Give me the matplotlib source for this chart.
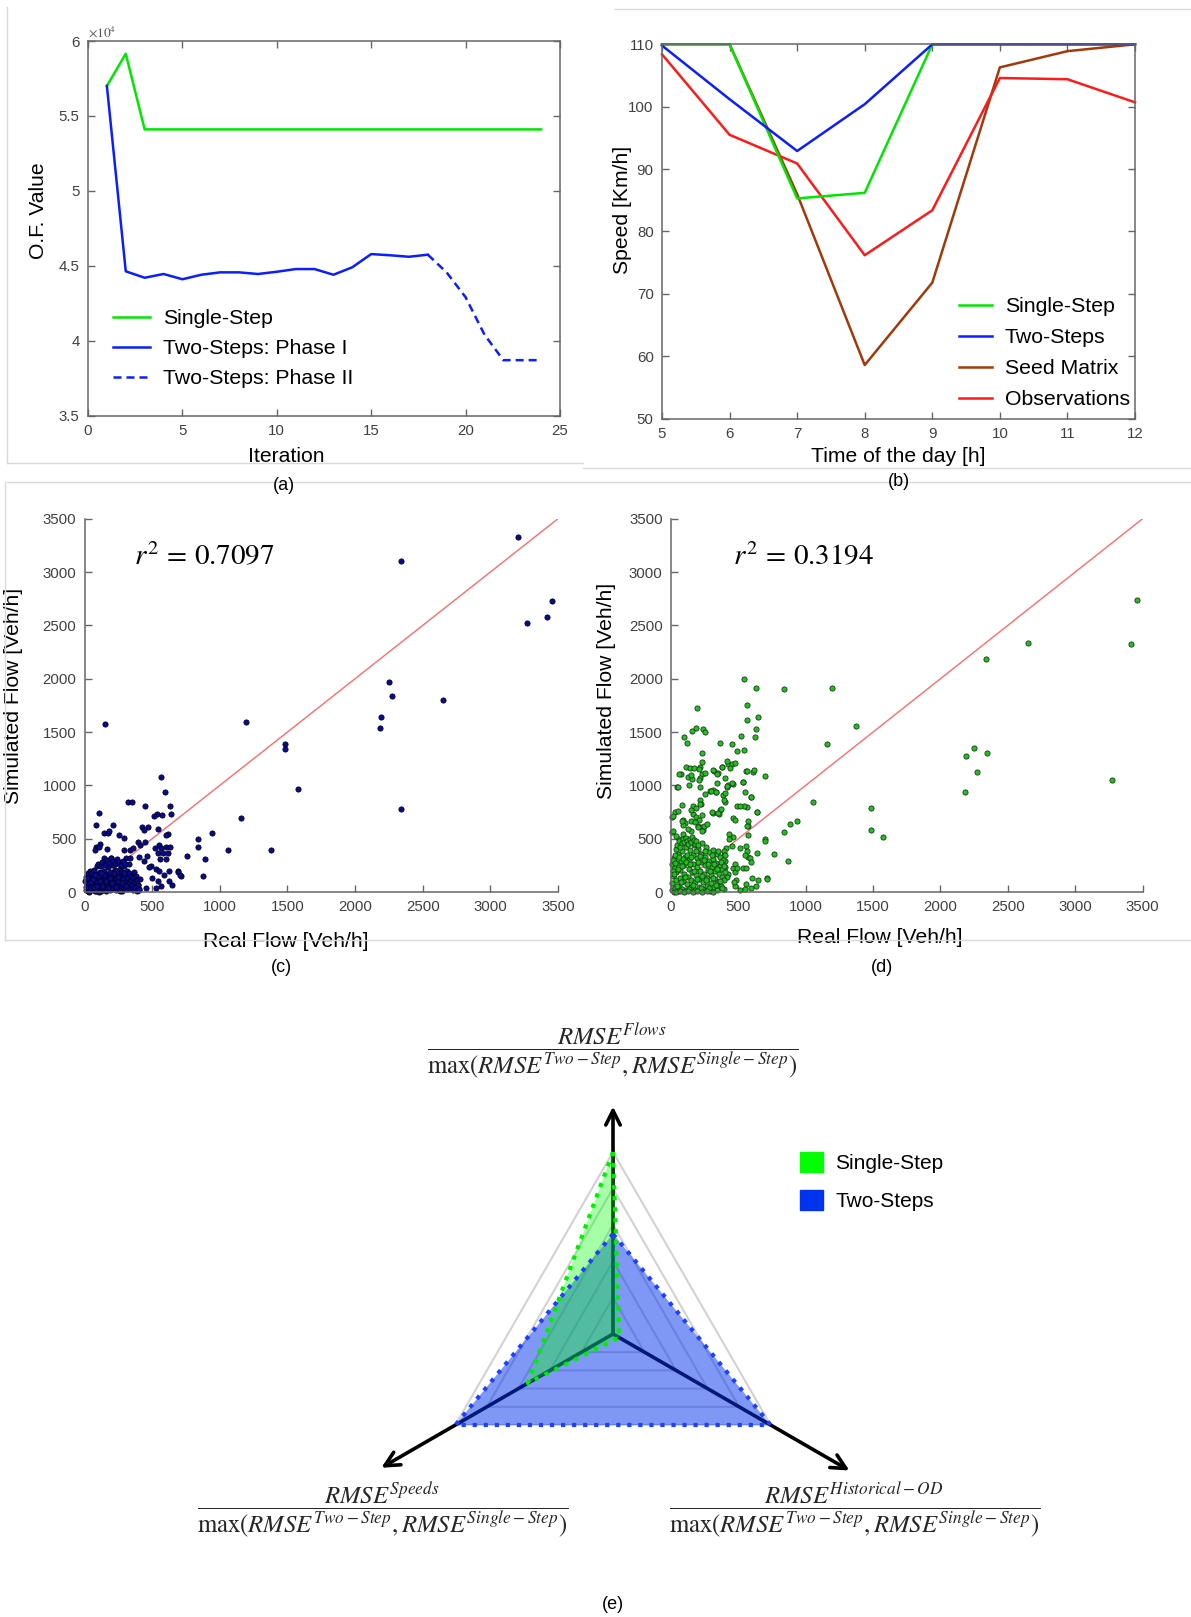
import numpy as np
import matplotlib.pyplot as plt
from matplotlib.lines import Line2D
from matplotlib.patches import Patch
from matplotlib.ticker import FuncFormatter

plt.rcParams['font.family'] = ['Liberation Sans', 'DejaVu Sans']
plt.rcParams['mathtext.fontset'] = 'stix'

W, H = 1191, 1617
GREEN, BLUE, BROWN, RED = '#00e600', '#0a1eff', '#a03a0a', '#ff1a1a'

# ---- (a) objective function vs iteration
iteration = list(range(1, 25))
of_single = [57000, 59150, 54100, 54100, 54100, 54100, 54100, 54100, 54100, 54100, 54100, 54100,
             54100, 54100, 54100, 54100, 54100, 54100, 54100, 54100, 54100, 54100, 54100, 54100]
iter_phase1 = list(range(1, 19))
of_phase1 = [57000, 44630, 44200, 44450, 44100, 44400, 44560, 44560, 44450, 44600, 44780, 44780,
             44400, 44900, 45780, 45700, 45600, 45740]
iter_phase2 = [18, 19, 20, 21, 22, 23, 24]
of_phase2 = [45740, 44550, 42900, 40400, 38700, 38700, 38700]

# ---- (b) speeds by hour
hours = [5, 6, 7, 8, 9, 10, 11, 12]
speed_single = [110, 110, 85.3, 86.2, 110, 110, 110, 110]
speed_two = [109.8, 101.2, 92.9, 100.4, 110, 110, 110, 110]
speed_seed = [110, 110, 86.0, 58.6, 71.8, 106.3, 108.9, 110]
speed_obs = [108.4, 95.5, 90.9, 76.2, 83.4, 104.6, 104.4, 100.7]

# ---- (c) real vs simulated flow, single-step
c_pts = [
    (3202, 3331), (2340, 3100), (3455, 2725), (3420, 2577), (3273, 2525), (2249, 1972), (2276, 1840),
    (2650, 1798), (2190, 1640), (2182, 1540), (1196, 1590), (153, 1573), (1485, 1384), (1485, 1341),
    (1579, 968), (2337, 781), (1155, 694), (939, 552), (841, 497), (841, 425), (1058, 397), (1378, 394),
    (888, 305), (876, 152), (693, 200), (713, 150), (565, 1080),
    (591, 937), (319, 840), (348, 846), (449, 809), (630, 803), (108, 743), (642, 734), (534, 734),
    (571, 721), (510, 712), (86, 630), (208, 624), (424, 605), (466, 611), (441, 583), (620, 542),
    (600, 533), (140, 549), (172, 555), (184, 571), (252, 533), (539, 593), (115, 448), (83, 423),
    (164, 401), (294, 395), (289, 508), (336, 395), (355, 408), (392, 473), (449, 467), (412, 445),
    (522, 414), (552, 445), (564, 408), (600, 426), (635, 423), (544, 364), (576, 364), (613, 361),
    (554, 310), (605, 310), (78, 392), (103, 420), (757, 342), (694, 191), (706, 157), (458, 339),
    (441, 288), (400, 326), (490, 241), (478, 232), (527, 219), (497, 132), (539, 107), (625, 194),
    (625, 100), (645, 63), (564, 53), (527, 38), (551, 194), (588, 163), (453, 38), (404, 22),
    (392, 69), (306, 320), (336, 320), (245, 273), (282, 257), (326, 263), (147, 320), (196, 320),
    (135, 273), (172, 273),
    (10, 20), (15, 60), (20, 110), (25, 5), (30, 40), (35, 85), (40, 130), (45, 15), (50, 60), (55, 100),
    (60, 30), (65, 150), (70, 75), (75, 10), (80, 115), (85, 45), (90, 170), (95, 90), (100, 25), (105, 135),
    (110, 60), (115, 190), (120, 10), (125, 95), (130, 150), (135, 35), (140, 200), (145, 75), (150, 120), (155, 5),
    (160, 170), (165, 55), (170, 230), (175, 100), (180, 140), (185, 20), (190, 185), (195, 70), (200, 250), (205, 115),
    (210, 40), (215, 160), (220, 90), (225, 210), (230, 15), (235, 130), (240, 60), (245, 175), (250, 100), (255, 30),
    (260, 220), (265, 145), (270, 70), (275, 190), (280, 10), (285, 120), (290, 240), (295, 50), (300, 160), (305, 95),
    (310, 200), (315, 25), (320, 135), (325, 80), (330, 180), (335, 40), (340, 110), (345, 150), (350, 65), (355, 20),
    (360, 130), (365, 185), (370, 90), (375, 45), (380, 150), (385, 110), (390, 10), (395, 70), (400, 30), (410, 120),
    (12, 140), (28, 175), (42, 200), (58, 180), (72, 210), (88, 240), (102, 265), (118, 245), (132, 280), (148, 255),
    (162, 300), (178, 270), (192, 320), (208, 290), (222, 265), (238, 305), (252, 280), (268, 250), (282, 290), (298, 265),
    (20, 75), (38, 20), (52, 120), (68, 45), (82, 5), (98, 150), (112, 100), (128, 55), (142, 160), (158, 105),
    (172, 40), (188, 130), (202, 80), (218, 180), (232, 50), (248, 145), (262, 10), (278, 85), (292, 175), (308, 60),
    (5, 100), (8, 50), (18, 130), (33, 0), (47, 95), (63, 120), (78, 160), (92, 60), (108, 0), (123, 175),
]

# ---- (d) real vs simulated flow, two-steps
d_pts = [
    (3458, 2741), (2651, 2338), (3415, 2323), (2336, 2185), (2246, 1346), (2342, 1305), (2189, 1274),
    (2274, 1127), (2181, 940), (3271, 1049), (541, 1993), (632, 1916), (840, 1905), (1196, 1912),
    (192, 1721), (646, 1640), (1376, 1555), (562, 1757), (562, 1617), (630, 1528), (623, 1456), (98, 1456),
    (118, 1400), (153, 1512), (186, 1542), (240, 1525), (255, 1497), (361, 1398), (455, 1391), (520, 1465),
    (545, 1329), (492, 1320), (232, 1306), (1155, 1384), (1481, 787), (1484, 584), (1575, 512), (1056, 846),
    (935, 668), (884, 637), (838, 559), (762, 356), (872, 293), (711, 128), (697, 496), (694, 1086),
    (609, 1127), (558, 1130), (538, 1027), (595, 887), (564, 799), (637, 746), (575, 621), (572, 534),
    (555, 434), (575, 325), (637, 362),
    (425, 1199), (456, 1199), (419, 1224), (382, 1168), (317, 1133), (351, 1118), (228, 1222), (215, 1168),
    (229, 1105), (108, 1168), (142, 1161), (173, 1166), (210, 1156), (314, 1144), (376, 1175), (440, 1160),
    (475, 1207), (71, 1105), (127, 1080), (156, 1058), (136, 1002), (45, 980), (218, 1068), (218, 980),
    (255, 918), (292, 943), (311, 955), (334, 933), (309, 743), (360, 768), (354, 730), (388, 912),
    (425, 1002), (459, 1008), (419, 987), (399, 843), (487, 809), (6, 702), (28, 752), (8, 565),
    (91, 671), (105, 643), (88, 631), (161, 809), (187, 784), (212, 862), (221, 824), (161, 731),
    (184, 702), (204, 618), (227, 606), (235, 584), (243, 621), (266, 637),
    (147, 1099), (61, 1108), (51, 987), (208, 1051), (252, 1115), (345, 1102), (343, 1019), (404, 1067),
    (453, 1026), (416, 994), (294, 949), (331, 940), (399, 924), (348, 739), (306, 748), (370, 777),
    (397, 860), (216, 828), (152, 771), (81, 812), (51, 755), (12, 710), (208, 675), (233, 726),
    (145, 666), (179, 653), (78, 669), (152, 573), (123, 589), (201, 605), (233, 573), (12, 573),
    (86, 541), (61, 500), (37, 525), (534, 1035), (551, 940), (613, 1140), (566, 1137), (539, 803),
    (713, 118), (649, 111), (600, 134), (559, 73), (510, 19), (551, 32), (630, 54), (593, 41),
    (473, 54), (485, 111), (458, 223), (478, 191), (532, 223), (583, 318), (593, 280), (554, 229),
    (451, 427), (573, 666), (563, 621), (698, 478), (639, 748), (593, 892), (515, 806), (463, 691),
    (478, 678), (434, 548), (458, 516), (434, 494), (566, 382), (551, 344), (512, 408), (409, 417),
    (392, 389), (397, 350), (478, 261), (488, 229), (402, 293), (404, 232), (426, 172), (412, 137), (468, 96),
    (5, 20), (10, 80), (15, 150), (20, 230), (25, 320), (30, 40), (35, 110), (40, 190), (45, 270), (50, 360),
    (55, 10), (60, 60), (65, 130), (70, 210), (75, 290), (80, 380), (85, 30), (90, 100), (95, 170), (100, 250),
    (105, 330), (110, 420), (115, 15), (120, 75), (125, 145), (130, 220), (135, 300), (140, 390), (145, 45), (150, 115),
    (155, 185), (160, 265), (165, 345), (170, 440), (175, 20), (180, 90), (185, 160), (190, 235), (195, 315), (200, 405),
    (205, 50), (210, 125), (215, 200), (220, 280), (225, 360), (230, 460), (235, 25), (240, 95), (245, 170), (250, 250),
    (255, 330), (260, 420), (265, 60), (270, 135), (275, 210), (280, 290), (285, 375), (290, 10), (295, 80), (300, 155),
    (305, 230), (310, 310), (315, 395), (320, 45), (325, 120), (330, 195), (335, 275), (340, 355), (345, 15), (350, 90),
    (355, 165), (360, 245), (365, 330), (370, 60), (375, 140), (380, 215), (385, 300), (390, 30), (395, 110), (400, 190),
    (8, 260), (18, 300), (28, 350), (38, 400), (48, 440), (58, 480), (68, 420), (78, 460), (88, 500), (98, 470),
    (108, 510), (118, 480), (128, 450), (138, 500), (148, 470), (158, 520), (168, 490), (178, 450), (188, 480), (198, 440),
    (12, 200), (22, 170), (32, 270), (42, 60), (52, 220), (62, 330), (72, 90), (82, 240), (92, 310), (102, 140),
    (112, 280), (122, 350), (132, 30), (142, 260), (152, 330), (162, 70), (172, 200), (182, 380), (192, 120), (202, 280),
    (212, 340), (222, 40), (232, 150), (242, 300), (252, 380), (262, 110), (272, 260), (282, 40), (292, 200), (302, 350),
    (312, 130), (322, 260), (332, 70), (342, 220), (352, 380), (362, 100), (372, 280), (382, 40), (392, 240), (402, 350),
    (20, 0), (40, 0), (65, 5), (95, 0), (125, 5), (160, 0), (195, 5), (230, 0), (270, 5), (310, 0),
]

# ---- (e) normalised RMSE radar
radar_series = ['Single-Step', 'Two-Steps']
radar_single = [1.0, 0.54, 0.04]   # flows, speeds, historical OD
radar_two = [0.55, 1.0, 1.0]
grid_levels = [0.2, 0.4, 0.6, 0.8, 1.0]

fig = plt.figure(figsize=(W / 100, H / 100), dpi=100)


def add_ax(l, t, r, b):
    return fig.add_axes([l / W, 1 - b / H, (r - l) / W, (b - t) / H])


def fx(x):
    return x / W


def fy(y):
    return 1 - y / H


def matlab_style(ax, box=True):
    for s in ax.spines.values():
        s.set_color('#666666')
        s.set_linewidth(1.1)
    ax.tick_params(direction='in', length=5, width=1, colors='#666666', labelcolor='#404040',
                   labelsize=10.8, top=box, right=box, pad=6)
    if not box:
        ax.spines['top'].set_visible(False)
        ax.spines['right'].set_visible(False)


def axis_labels(ax, box, xl, xpos, yl, ypos):
    l, t, r, b = box
    ax.set_xlabel(xl, fontsize=15.2, va='center', color='black')
    ax.xaxis.set_label_coords((xpos[0] - l) / (r - l), (b - xpos[1]) / (b - t))
    ax.set_ylabel(yl, fontsize=15.2, va='center', color='black')
    ax.yaxis.set_label_coords((ypos[0] - l) / (r - l), (b - ypos[1]) / (b - t))


# (a)
box_a = (88, 41, 560, 415.6)
ax = add_ax(*box_a)
ax.plot(iteration, of_single, color=GREEN, lw=1.8, label='Single-Step', clip_on=False)
ax.plot(iter_phase1, of_phase1, color=BLUE, lw=1.8, label='Two-Steps: Phase I')
ax.plot(iter_phase2, of_phase2, color=BLUE, lw=1.8, ls=(0, (3.2, 2.0)), label='Two-Steps: Phase II')
ax.set_xlim(0, 25)
ax.set_ylim(35000, 60000)
ax.set_xticks(range(0, 26, 5))
ax.set_yticks(np.arange(35000, 60001, 5000))
ax.yaxis.set_major_formatter(FuncFormatter(lambda v, p: f'{v / 1e4:g}'))
matlab_style(ax)
ax.text(0.0, 1.004, r'$\times10^{4}$', transform=ax.transAxes, ha='left', va='bottom',
        fontsize=9.5, color='#555555')
axis_labels(ax, box_a, 'Iteration', (286, 456), 'O.F. Value', (39, 211))
ax.legend(loc='upper left', bbox_to_anchor=((113 - 88) / 472, 1 - (309 - 41) / 374.6),
          frameon=False, fontsize=15.3, handlelength=1.75, handletextpad=0.6, labelspacing=0.52,
          borderpad=0, borderaxespad=0)

# (b)
box_b = (662, 44.3, 1135, 418.7)
ax = add_ax(*box_b)
h_seed, = ax.plot(hours, speed_seed, color=BROWN, lw=1.8, label='Seed Matrix', clip_on=False)
h_obs, = ax.plot(hours, speed_obs, color=RED, lw=1.8, label='Observations', clip_on=False)
h_single, = ax.plot(hours, speed_single, color=GREEN, lw=1.8, label='Single-Step', clip_on=False)
h_two, = ax.plot(hours, speed_two, color=BLUE, lw=1.8, label='Two-Steps', clip_on=False)
ax.set_xlim(5, 12)
ax.set_ylim(50, 110)
ax.set_xticks(hours)
ax.set_yticks(range(50, 111, 10))
matlab_style(ax)
axis_labels(ax, box_b, 'Time of the day [h]', (898, 456), 'Speed [Km/h]', (622, 210))
ax.legend(handles=[h_single, h_two, h_seed, h_obs], loc='upper left',
          bbox_to_anchor=((959 - 662) / 473, 1 - (297 - 44.3) / 374.4),
          frameon=False, fontsize=15.3, handlelength=1.55, handletextpad=0.6, labelspacing=0.57,
          borderpad=0, borderaxespad=0)


def flow_panel(box, pts, face, edge, r2, r2_x, xlab_pos, ylab_pos):
    ax = add_ax(*box)
    real, sim = np.array(pts, dtype=float).T
    ax.plot([0, 3500], [0, 3500], color='#ff6b6b', lw=1, zorder=1)
    ax.scatter(real, sim, s=14, c=face, edgecolors=edge, linewidths=0.6, zorder=2, clip_on=False)
    ax.set_xlim(0, 3500)
    ax.set_ylim(0, 3500)
    ax.set_xticks(range(0, 3501, 500))
    ax.set_yticks(range(0, 3501, 500))
    matlab_style(ax, box=False)
    axis_labels(ax, box, 'Real Flow [Veh/h]', xlab_pos, 'Simulated Flow [Veh/h]', ylab_pos)
    fig.text(fx(r2_x), fy(557), r2, ha='left', va='center', fontsize=21, color='black')
    return ax


flow_panel((84.6, 518.7, 558, 892), c_pts, '#0a0a90', '#000022', r'$r^2\,=\,0.7097$', 134,
           (286, 941.5), (14, 696))
flow_panel((671, 518.7, 1142.6, 892), d_pts, '#20c020', '#1a3a1a', r'$r^2\,=\,0.3194$', 733,
           (880, 937.4), (607, 691))

# (e) radar
ax_e = add_ax(150, 1060, 1076, 1580)
cx, cy, R = 613, 1334, 182
ax_e.set_xlim((150 - cx) / R, (1076 - cx) / R)
ax_e.set_ylim((cy - 1580) / R, (cy - 1060) / R)
ax_e.axis('off')
ang = np.deg2rad([90, 210, 330])
for lv in grid_levels:
    ax_e.fill(lv * np.cos(ang), lv * np.sin(ang), fill=False, edgecolor='#d2d2d2', lw=1.5, zorder=1)
for a, L in zip(ang, [1.25, 1.47, 1.5]):
    ax_e.annotate('', xy=(L * np.cos(a), L * np.sin(a)), xytext=(0, 0), zorder=1.5,
                  arrowprops=dict(arrowstyle='->', lw=2.6, color='black', mutation_scale=26,
                                  shrinkA=0, shrinkB=0))
two = np.array(radar_two)
one = np.array(radar_single)
ax_e.fill(two * np.cos(ang), two * np.sin(ang), color='#0033ee', alpha=0.5, lw=0, zorder=2)
ax_e.fill(one * np.cos(ang), one * np.sin(ang), color='#00ff00', alpha=0.35, lw=0, zorder=3)
ax_e.plot(np.append(two * np.cos(ang), two[0] * np.cos(ang[0])),
          np.append(two * np.sin(ang), two[0] * np.sin(ang[0])),
          color='#1f3fff', lw=3, ls=':', zorder=4, clip_on=False)
ax_e.plot(np.append(one * np.cos(ang), one[0] * np.cos(ang[0])),
          np.append(one * np.sin(ang), one[0] * np.sin(ang[0])),
          color='#00ee00', lw=3, ls=':', zorder=5, clip_on=False)
ax_e.legend(handles=[Patch(facecolor='#00ff00', edgecolor='#00ff00'),
                     Patch(facecolor='#0033ee', edgecolor='#0033ee')],
            labels=radar_series, loc='upper left', bbox_to_anchor=(fx(800), fy(1152)),
            bbox_transform=fig.transFigure, frameon=False, fontsize=15, handlelength=1.1,
            handleheight=1.1, handletextpad=0.6, labelspacing=0.8, borderpad=0, borderaxespad=0)

den = r'\max(RMSE^{Two-Step},RMSE^{Single-Step})'
fig.text(fx(613), fy(1051), r'$\dfrac{RMSE^{Flows}}{' + den + '}$', ha='center', va='center',
         fontsize=17.8, color='#262626')
fig.text(fx(383), fy(1510), r'$\dfrac{RMSE^{Speeds}}{' + den + '}$', ha='center', va='center',
         fontsize=17.8, color='#262626')
fig.text(fx(855), fy(1510), r'$\dfrac{RMSE^{Historical-OD}}{' + den + '}$', ha='center', va='center',
         fontsize=17.8, color='#262626')

# panel letters
for lab, x, y in [('(a)', 283.6, 486), ('(b)', 899, 481), ('(c)', 281.5, 967),
                  ('(d)', 881.7, 967), ('(e)', 612.5, 1604)]:
    fig.text(fx(x), fy(y), lab, ha='center', va='center', fontsize=13, color='black')

# faint frames around the sub-images
for x1, y1, x2, y2 in [(7, 7, 7, 463), (7, 463, 583, 463), (615, 9, 1191, 9), (583, 468, 1191, 468),
                       (7, 482, 1191, 482), (5, 482, 5, 940), (5, 940, 1191, 940)]:
    fig.add_artist(Line2D([fx(x1), fx(x2)], [fy(y1), fy(y2)], transform=fig.transFigure,
                          color='#d9d9d9', lw=1))

fig.savefig('out.png', dpi=100)
